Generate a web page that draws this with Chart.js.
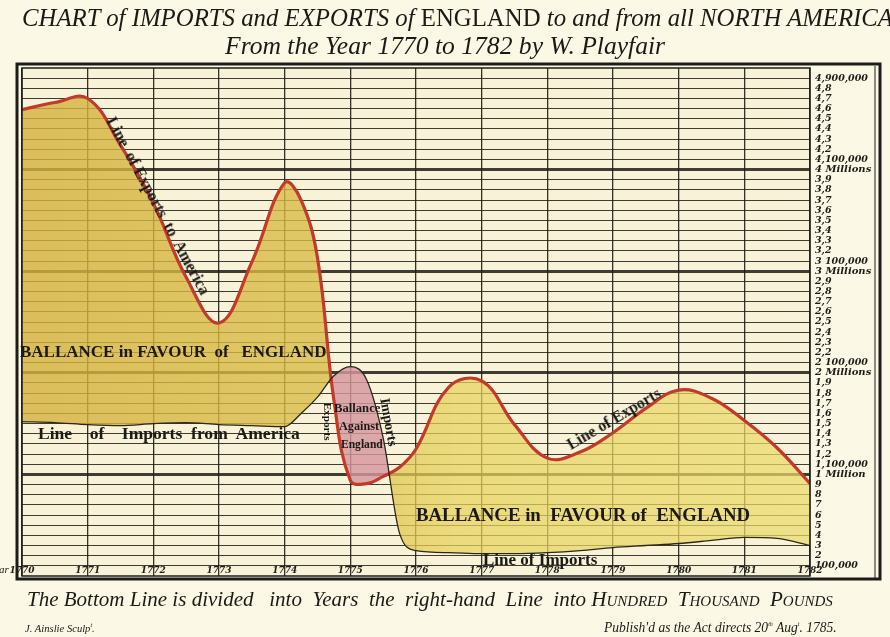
<!DOCTYPE html>
<html><head><meta charset="utf-8">
<script src="https://cdn.jsdelivr.net/npm/chart.js@4.4.1/dist/chart.umd.min.js"></script>
<style>
html,body{margin:0;padding:0;background:#fbf8e5;}
#wrap{position:relative;width:890px;height:637px;overflow:hidden;font-family:"Liberation Serif",serif;color:#1b1a16;}
#c{position:absolute;left:0;top:0;width:890px;height:637px;}
.t{position:absolute;white-space:nowrap;line-height:1;transform-origin:center center;}
.it{font-style:italic;}
.b{font-weight:bold;}
</style></head><body>
<div id="wrap">
<canvas id="c" width="890" height="637"></canvas>

<div class="t it" data-l="22" data-y="18" data-w="872" data-fs="24">CHART of IMPORTS and EXPORTS of <span style="font-style:normal">ENGLAND</span> to and from all NORTH AMERICA</div>
<div class="t it" data-cx="445" data-y="46" data-w="440" data-fs="22">From the Year 1770 to 1782 by W. Playfair</div>

<div class="t b" data-l="20" data-y="351" data-w="306" data-fs="16">BALLANCE in FAVOUR&nbsp; of&nbsp;&nbsp; ENGLAND</div>
<div class="t b" data-l="38" data-y="434" data-w="262" data-fs="13">Line&nbsp;&nbsp;&nbsp; of&nbsp;&nbsp;&nbsp; Imports&nbsp; from&nbsp; America</div>
<div class="t b" data-cx="158" data-y="206" data-w="200" data-fs="11" data-r="61.5">Line&nbsp; of Exports&nbsp; to&nbsp; America</div>

<div class="t b" data-cx="357" data-y="408" data-w="46" data-fs="11">Ballance</div>
<div class="t b" data-cx="359" data-y="426" data-w="40" data-fs="11">Against</div>
<div class="t b" data-cx="362" data-y="445" data-w="42" data-fs="11">England</div>
<div class="t b" data-cx="328" data-y="421" data-w="38" data-fs="10" data-r="90">Exports</div>
<div class="t b" data-cx="389" data-y="422" data-w="48" data-fs="10" data-r="80">Imports</div>

<div class="t b" data-cx="614" data-y="419" data-w="106" data-fs="12" data-r="-30.5">Line of Exports</div>
<div class="t b" data-l="416" data-y="515" data-w="334" data-fs="16">BALLANCE in&nbsp; FAVOUR of&nbsp; ENGLAND</div>
<div class="t b" data-l="483" data-y="559" data-w="114" data-fs="13">Line of Imports</div>

<div class="t it" data-r0="9" data-y="569" data-fs="11">Year</div>

<div class="t it" data-cx="430" data-y="599" data-w="804" data-fs="17">The Bottom Line is divided&nbsp;&nbsp; into&nbsp; Years&nbsp; the&nbsp; right-hand&nbsp; Line&nbsp; into <span style="font-variant:small-caps">Hundred&nbsp; Thousand&nbsp; Pounds</span></div>
<div class="t it" data-l="25" data-y="628" data-w="70" data-fs="10">J. Ainslie Sculp<sup style="font-size:6px">t</sup>.</div>
<div class="t it" data-l="604" data-y="628" data-w="234" data-fs="11">Publish'd as the Act directs 20<sup style="font-size:6px">th</sup> Aug<sup style="font-size:6px">t</sup>. 1785.</div>
</div>

<script>
// ---- data ----
const years = [1770, 1770.5, 1771, 1771.5, 1772, 1772.5, 1773, 1773.5, 1774, 1774.25, 1774.5, 1774.75,
  1775, 1775.25, 1775.5, 1775.75, 1776, 1776.5, 1777, 1777.5, 1778, 1778.5, 1779, 1779.5,
  1780, 1780.5, 1781, 1781.5, 1782];
// hundreds of thousands of pounds
const exportsValues = [45.9, 46.6, 47.0, 42.4, 36.7, 29.4, 24.9, 30.9, 38.7, 37.0, 31.3, 17.3,
  9.4, 9.1, 9.8, 10.7, 12.5, 18.6, 19.2, 14.9, 11.6, 12.2, 14.1, 16.5,
  18.3, 17.5, 15.3, 12.6, 9.1];
const importsValues = [15.2, 15.1, 14.9, 14.8, 15.0, 15.1, 14.9, 14.8, 14.7, 16.0, 17.6, 19.7,
  20.6, 19.3, 13.6, 4.2, 2.5, 2.3, 2.2, 2.2, 2.3, 2.5, 2.8, 3.0,
  3.2, 3.5, 3.8, 3.7, 3.0];
const yearTicks = [1770, 1771, 1772, 1773, 1774, 1775, 1776, 1777, 1778, 1779, 1780, 1781, 1782];
const yearLabels = ['1770', '1771', '1772', '1773', '1774', '1775', '1776', '1777', '1778', '1779', '1780', '1781', '1782'];
const valueTicks = [1, 2, 3, 4, 5, 6, 7, 8, 9, 10, 11, 12, 13, 14, 15, 16, 17, 18, 19, 20,
  21, 22, 23, 24, 25, 26, 27, 28, 29, 30, 31, 32, 33, 34, 35, 36, 37, 38, 39, 40,
  41, 42, 43, 44, 45, 46, 47, 48, 49];
const valueLabels = ['100,000', '2', '3', '4', '5', '6', '7', '8', '9', '1 Million',
  '1,100,000', '1,2', '1,3', '1,4', '1,5', '1,6', '1,7', '1,8', '1,9', '2 Millions',
  '2 100,000', '2,2', '2,3', '2,4', '2,5', '2,6', '2,7', '2,8', '2,9', '3 Millions',
  '3 100,000', '3,2', '3,3', '3,4', '3,5', '3,6', '3,7', '3,8', '3,9', '4 Millions',
  '4,100,000', '4,2', '4,3', '4,4', '4,5', '4,6', '4,7', '4,8', '4,900,000'];
const majorTicks = [10, 20, 30, 40];

// ---- text placement ----
document.querySelectorAll('#wrap .t').forEach(el => {
  const fs = parseFloat(el.dataset.fs || 12);
  el.style.fontSize = fs + 'px';
  if (el.dataset.w) {
    const w = el.offsetWidth;
    el.style.fontSize = (fs * parseFloat(el.dataset.w) / w) + 'px';
  }
  const w = el.offsetWidth, h = el.offsetHeight;
  const y = parseFloat(el.dataset.y);
  let left;
  if (el.dataset.l !== undefined) left = parseFloat(el.dataset.l);
  else if (el.dataset.r0 !== undefined) left = parseFloat(el.dataset.r0) - w;
  else left = parseFloat(el.dataset.cx) - w / 2;
  el.style.left = left + 'px';
  el.style.top = (y - h / 2) + 'px';
  if (el.dataset.r) el.style.transform = 'rotate(' + el.dataset.r + 'deg)';
});

// ---- chart ----
const cv = document.getElementById('c');
const ctx = cv.getContext('2d');
const gold = ctx.createLinearGradient(22, 0, 810, 0);
gold.addColorStop(0, 'rgba(212,176,60,0.80)');
gold.addColorStop(0.4, 'rgba(218,188,70,0.78)');
gold.addColorStop(0.55, 'rgba(231,210,92,0.72)');
gold.addColorStop(1, 'rgba(235,218,106,0.72)');

const framePlugin = {
  id: 'frame',
  beforeDraw(chart) {
    const {ctx, chartArea: a} = chart;
    ctx.save();
    ctx.fillStyle = '#f8f3d8';
    ctx.fillRect(a.left, a.top, a.right - a.left, a.bottom - a.top);
    ctx.restore();
  },
  afterDraw(chart) {
    const {ctx, chartArea: a} = chart;
    ctx.save();
    ctx.strokeStyle = '#1d1c18';
    ctx.lineWidth = 1.5;
    ctx.strokeRect(a.left, a.top, a.right - a.left, a.bottom - a.top);
    ctx.lineWidth = 3;
    ctx.strokeRect(a.left - 5, a.top - 4, (a.right + 70) - (a.left - 5), (a.bottom + 3) - (a.top - 4));
    ctx.lineWidth = 1;
    ctx.beginPath();
    ctx.moveTo(a.right + 65, a.top - 2);
    ctx.lineTo(a.right + 65, a.bottom + 2);
    ctx.stroke();
    ctx.restore();
  }
};

new Chart(ctx, {
  type: 'line',
  data: {
    datasets: [
      {
        label: 'Line of Exports to America',
        data: years.map((x, i) => ({x: x, y: exportsValues[i]})),
        borderColor: '#c23a2b',
        borderWidth: 3.2,
        pointRadius: 0,
        tension: 0.4,
        fill: {target: 1, above: gold, below: 'rgba(214,150,158,0.82)'},
        order: 1
      },
      {
        label: 'Line of Imports from America',
        data: years.map((x, i) => ({x: x, y: importsValues[i]})),
        borderColor: '#2e2616',
        borderWidth: 1.3,
        pointRadius: 0,
        cubicInterpolationMode: 'monotone',
        fill: false,
        order: 0
      }
    ]
  },
  options: {
    responsive: false,
    animation: false,
    layout: {padding: {left: 22, top: 68, right: 10, bottom: 61}},
    plugins: {legend: {display: false}, tooltip: {enabled: false}},
    scales: {
      x: {
        type: 'linear', min: 1770, max: 1782,
        afterBuildTicks: s => { s.ticks = yearTicks.map(v => ({value: v})); },
        afterFit: s => { s.height = 0; },
        grid: {color: 'rgba(30,28,22,0.9)', lineWidth: 1.3, drawTicks: false},
        border: {display: false},
        ticks: {
          mirror: true, padding: 0, autoSkip: false, maxRotation: 0,
          callback: (v, i) => yearLabels[i],
          font: {family: 'DejaVu Serif', style: 'italic', weight: 'bold', size: 9},
          color: '#1d1c18'
        }
      },
      y: {
        type: 'linear', position: 'right', min: 0, max: 50,
        afterBuildTicks: s => { s.ticks = valueTicks.map(v => ({value: v})); },
        afterFit: s => { s.width = 70; },
        grid: {
          color: 'rgba(30,28,22,0.85)',
          lineWidth: c => (c.tick && majorTicks.includes(c.tick.value)) ? 3 : 1,
          drawTicks: false
        },
        border: {display: false},
        ticks: {
          padding: 5, autoSkip: false,
          callback: (v, i) => valueLabels[i],
          font: c => ({family: 'DejaVu Serif', style: 'italic', weight: 'bold',
            size: (c.tick && majorTicks.includes(c.tick.value)) ? 10 : 9.5}),
          color: '#1d1c18'
        }
      }
    }
  },
  plugins: [framePlugin]
});
</script>
</body></html>
